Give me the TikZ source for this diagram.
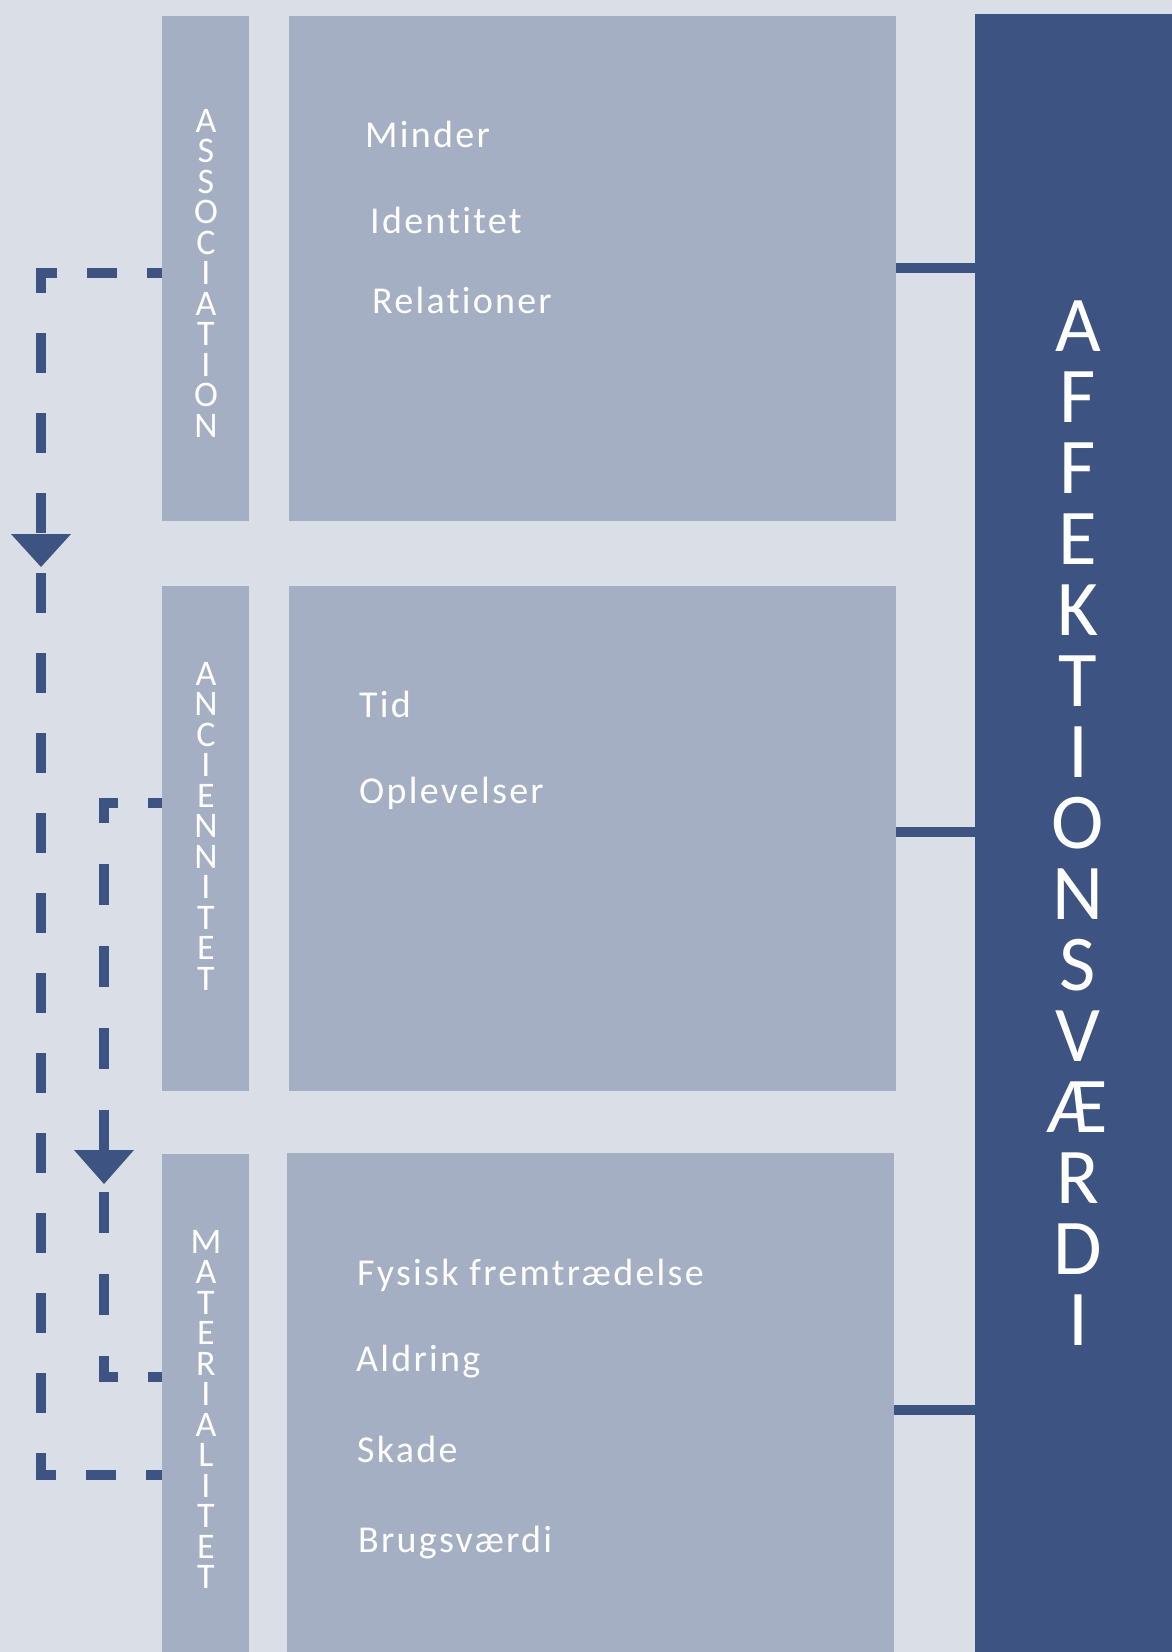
\documentclass[tikz,border=0pt]{standalone}
\usepackage{fontspec}
\setmainfont{Carlito}[Ligatures={NoCommon,NoRequired,NoContextual}]
\newfontfamily\txtfont[LetterSpace=6.0,Ligatures={NoCommon,NoRequired,NoContextual}]{Carlito}
\definecolor{bg}{RGB}{217,222,231}
\definecolor{mid}{RGB}{164,175,196}
\definecolor{dk}{RGB}{61,84,130}
\begin{document}
\begin{tikzpicture}[x=1pt,y=-1pt,
  panel/.style={fill=mid, draw=none, inner sep=0pt, outer sep=0pt, anchor=north west},
  darkpanel/.style={fill=dk, draw=none, inner sep=0pt, outer sep=0pt, anchor=north west},
  conn/.style={draw=dk, line width=10.7pt},
  dashline/.style={draw=dk, line width=10.7pt, line cap=butt},
  txt/.style={anchor=base west, inner sep=0pt, text=white, font=\txtfont\fontsize{38}{40}\selectfont},
  vlab/.style={anchor=north, inner sep=0pt, text=white, align=center, font=\fontsize{36}{30.5}\selectfont},
  biglab/.style={anchor=north, inner sep=0pt, text=white, align=center, font=\fontsize{79}{71}\selectfont}]
\fill[bg] (0,0) rectangle (1172,1652);
\useasboundingbox (0,0) rectangle (1172,1652);
% panels
\node[panel, minimum width=87pt, minimum height=505pt] (s1) at (162,16) {};
\node[panel, minimum width=607pt, minimum height=505pt] (b1) at (289,16) {};
\node[panel, minimum width=87pt, minimum height=505pt] (s2) at (162,586) {};
\node[panel, minimum width=607pt, minimum height=505pt] (b2) at (289,586) {};
\node[panel, minimum width=87pt, minimum height=498pt] (s3) at (162,1154) {};
\node[panel, minimum width=607pt, minimum height=499pt] (b3) at (287,1153) {};
\node[darkpanel, minimum width=197pt, minimum height=1638pt] (dk) at (975,14) {};
% solid connectors
\coordinate (k1) at (0,268);
\coordinate (k2) at (0,832);
\coordinate (k3) at (0,1410);
\draw[conn] (b1.east |- k1) -- (dk.west |- k1);
\draw[conn] (b2.east |- k2) -- (dk.west |- k2);
\draw[conn] (b3.east |- k3) -- (dk.west |- k3);
% dashed connectors
\coordinate (oT) at (41,273);
\coordinate (oB) at (41,1475);
\coordinate (iT) at (104,803);
\coordinate (iB) at (104,1377);
\draw[dashline, dash pattern=on 30pt off 30pt, dash phase=15pt] (oT -| s1.west) -- ([xshift=-5.35pt]oT);
\draw[dashline, dash pattern=on 40pt off 40pt, dash phase=14.65pt] ([yshift=5.35pt]oT) -- ([yshift=-5.35pt]oB);
\draw[dashline, dash pattern=on 30pt off 30pt, dash phase=9.65pt] ([xshift=-5.35pt]oB) -- (oB -| s3.west);
\draw[dashline, dash pattern=on 30pt off 30pt, dash phase=16pt] (iT -| s2.west) -- ([xshift=-5.35pt]iT);
\draw[dashline, dash pattern=on 41pt off 41pt, dash phase=15.65pt] ([yshift=5.35pt]iT) -- ([yshift=-5.35pt]iB);
\draw[dashline, dash pattern=on 30pt off 30pt, dash phase=10.65pt] ([xshift=-5.35pt]iB) -- (iB -| s3.west);
% arrowheads
\fill[dk] (11,534) -- (71,534) -- (41,567) -- cycle;
\fill[dk] (74,1150) -- (134,1150) -- (104,1184) -- cycle;
% vertical labels
\node[vlab] (l1) at (206,109) {A\\S\\S\\O\\C\\I\\A\\T\\I\\O\\N};
\node[vlab] (l2) at (206,662) {A\\N\\C\\I\\E\\N\\N\\I\\T\\E\\T};
\node[vlab] (l3) at (206,1230) {M\\A\\T\\E\\R\\I\\A\\L\\I\\T\\E\\T};
\node[biglab] (big) at (1078,301) {A\\F\\F\\E\\K\\T\\I\\O\\N\\S\\V\\Æ\\R\\D\\I};
% item texts
\node[txt] (t1) at (365,147) {Minder};
\node[txt] (t2) at (370,233) {Identitet};
\node[txt] (t3) at (372,313) {Relationer};
\node[txt] (t4) at (359,717) {Tid};
\node[txt] (t5) at (359,803) {Oplevelser};
\node[txt] (t6) at (357,1285) {Fysisk fremtrædelse};
\node[txt] (t7) at (356,1371) {Aldring};
\node[txt] (t8) at (357,1462) {Skade};
\node[txt] (t9) at (358,1552) {Brugsværdi};
\end{tikzpicture}
\end{document}
